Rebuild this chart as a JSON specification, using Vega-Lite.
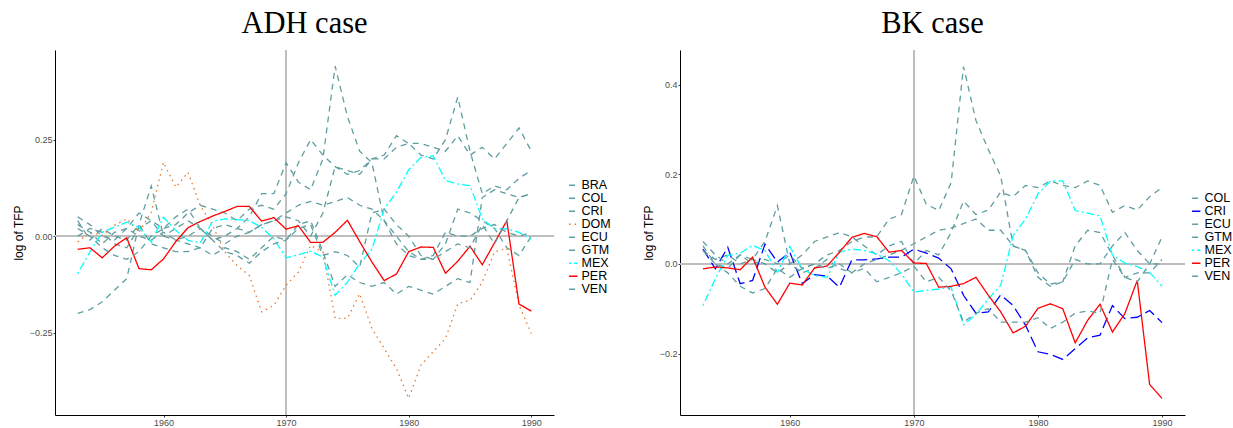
{
"$schema": "https://vega.github.io/schema/vega-lite/v6.json",
"background": "white",
"padding": {"left": 12, "top": 9, "right": 0, "bottom": 0},
"datasets": {
"adh": [
{"country":"BRA","year":1953,"tfp":-0.20},{"country":"BRA","year":1954,"tfp":-0.19},{"country":"BRA","year":1955,"tfp":-0.17},{"country":"BRA","year":1956,"tfp":-0.14},{"country":"BRA","year":1957,"tfp":-0.11},{"country":"BRA","year":1958,"tfp":0.03},{"country":"BRA","year":1959,"tfp":0.13},{"country":"BRA","year":1960,"tfp":0.0},{"country":"BRA","year":1961,"tfp":-0.01},{"country":"BRA","year":1962,"tfp":-0.02},{"country":"BRA","year":1963,"tfp":-0.03},{"country":"BRA","year":1964,"tfp":-0.05},{"country":"BRA","year":1965,"tfp":-0.03},{"country":"BRA","year":1966,"tfp":-0.04},{"country":"BRA","year":1967,"tfp":-0.06},{"country":"BRA","year":1968,"tfp":-0.03},{"country":"BRA","year":1969,"tfp":0.0},{"country":"BRA","year":1970,"tfp":-0.01},{"country":"BRA","year":1971,"tfp":0.03},{"country":"BRA","year":1972,"tfp":0.04},{"country":"BRA","year":1973,"tfp":-0.04},{"country":"BRA","year":1974,"tfp":-0.13},{"country":"BRA","year":1975,"tfp":-0.10},{"country":"BRA","year":1976,"tfp":-0.12},{"country":"BRA","year":1977,"tfp":-0.13},{"country":"BRA","year":1978,"tfp":-0.12},{"country":"BRA","year":1979,"tfp":-0.15},{"country":"BRA","year":1980,"tfp":-0.13},{"country":"BRA","year":1981,"tfp":-0.14},{"country":"BRA","year":1982,"tfp":-0.15},{"country":"BRA","year":1983,"tfp":-0.13},{"country":"BRA","year":1984,"tfp":-0.11},{"country":"BRA","year":1985,"tfp":-0.12},{"country":"BRA","year":1986,"tfp":0.10},{"country":"BRA","year":1987,"tfp":0.12},{"country":"BRA","year":1988,"tfp":0.11},{"country":"BRA","year":1989,"tfp":0.10},{"country":"BRA","year":1990,"tfp":0.11},
{"country":"COL","year":1953,"tfp":0.05},{"country":"COL","year":1954,"tfp":0.03},{"country":"COL","year":1955,"tfp":0.0},{"country":"COL","year":1956,"tfp":-0.01},{"country":"COL","year":1957,"tfp":0.02},{"country":"COL","year":1958,"tfp":0.06},{"country":"COL","year":1959,"tfp":0.04},{"country":"COL","year":1960,"tfp":0.02},{"country":"COL","year":1961,"tfp":0.03},{"country":"COL","year":1962,"tfp":0.06},{"country":"COL","year":1963,"tfp":0.08},{"country":"COL","year":1964,"tfp":0.07},{"country":"COL","year":1965,"tfp":0.06},{"country":"COL","year":1966,"tfp":0.04},{"country":"COL","year":1967,"tfp":0.07},{"country":"COL","year":1968,"tfp":0.08},{"country":"COL","year":1969,"tfp":0.07},{"country":"COL","year":1970,"tfp":0.11},{"country":"COL","year":1971,"tfp":0.19},{"country":"COL","year":1972,"tfp":0.25},{"country":"COL","year":1973,"tfp":0.21},{"country":"COL","year":1974,"tfp":0.18},{"country":"COL","year":1975,"tfp":0.16},{"country":"COL","year":1976,"tfp":0.17},{"country":"COL","year":1977,"tfp":0.20},{"country":"COL","year":1978,"tfp":0.21},{"country":"COL","year":1979,"tfp":0.26},{"country":"COL","year":1980,"tfp":0.24},{"country":"COL","year":1981,"tfp":0.24},{"country":"COL","year":1982,"tfp":0.23},{"country":"COL","year":1983,"tfp":0.22},{"country":"COL","year":1984,"tfp":0.26},{"country":"COL","year":1985,"tfp":0.21},{"country":"COL","year":1986,"tfp":0.23},{"country":"COL","year":1987,"tfp":0.20},{"country":"COL","year":1988,"tfp":0.24},{"country":"COL","year":1989,"tfp":0.28},{"country":"COL","year":1990,"tfp":0.22},
{"country":"CRI","year":1953,"tfp":0.04},{"country":"CRI","year":1954,"tfp":-0.01},{"country":"CRI","year":1955,"tfp":0.02},{"country":"CRI","year":1956,"tfp":0.0},{"country":"CRI","year":1957,"tfp":-0.01},{"country":"CRI","year":1958,"tfp":0.03},{"country":"CRI","year":1959,"tfp":-0.02},{"country":"CRI","year":1960,"tfp":-0.03},{"country":"CRI","year":1961,"tfp":-0.04},{"country":"CRI","year":1962,"tfp":-0.04},{"country":"CRI","year":1963,"tfp":-0.03},{"country":"CRI","year":1964,"tfp":0.02},{"country":"CRI","year":1965,"tfp":0.03},{"country":"CRI","year":1966,"tfp":0.02},{"country":"CRI","year":1967,"tfp":0.01},{"country":"CRI","year":1968,"tfp":0.03},{"country":"CRI","year":1969,"tfp":0.04},{"country":"CRI","year":1970,"tfp":0.06},{"country":"CRI","year":1971,"tfp":0.08},{"country":"CRI","year":1972,"tfp":0.09},{"country":"CRI","year":1973,"tfp":0.08},{"country":"CRI","year":1974,"tfp":0.09},{"country":"CRI","year":1975,"tfp":0.10},{"country":"CRI","year":1976,"tfp":0.08},{"country":"CRI","year":1977,"tfp":0.07},{"country":"CRI","year":1978,"tfp":0.04},{"country":"CRI","year":1979,"tfp":-0.02},{"country":"CRI","year":1980,"tfp":-0.05},{"country":"CRI","year":1981,"tfp":-0.06},{"country":"CRI","year":1982,"tfp":-0.06},{"country":"CRI","year":1983,"tfp":-0.02},{"country":"CRI","year":1984,"tfp":0.07},{"country":"CRI","year":1985,"tfp":0.06},{"country":"CRI","year":1986,"tfp":0.04},{"country":"CRI","year":1987,"tfp":0.02},{"country":"CRI","year":1988,"tfp":-0.03},{"country":"CRI","year":1989,"tfp":-0.05},{"country":"CRI","year":1990,"tfp":0.0},
{"country":"DOM","year":1953,"tfp":-0.015},{"country":"DOM","year":1954,"tfp":0.010},{"country":"DOM","year":1955,"tfp":0.002},{"country":"DOM","year":1956,"tfp":0.028},{"country":"DOM","year":1957,"tfp":0.045},{"country":"DOM","year":1958,"tfp":0.010},{"country":"DOM","year":1959,"tfp":0.062},{"country":"DOM","year":1960,"tfp":0.191},{"country":"DOM","year":1961,"tfp":0.127},{"country":"DOM","year":1962,"tfp":0.165},{"country":"DOM","year":1963,"tfp":0.079},{"country":"DOM","year":1964,"tfp":0.028},{"country":"DOM","year":1965,"tfp":-0.041},{"country":"DOM","year":1966,"tfp":-0.076},{"country":"DOM","year":1967,"tfp":-0.102},{"country":"DOM","year":1968,"tfp":-0.196},{"country":"DOM","year":1969,"tfp":-0.179},{"country":"DOM","year":1970,"tfp":-0.127},{"country":"DOM","year":1971,"tfp":-0.093},{"country":"DOM","year":1972,"tfp":-0.024},{"country":"DOM","year":1973,"tfp":-0.041},{"country":"DOM","year":1974,"tfp":-0.213},{"country":"DOM","year":1975,"tfp":-0.213},{"country":"DOM","year":1976,"tfp":-0.149},{"country":"DOM","year":1977,"tfp":-0.239},{"country":"DOM","year":1978,"tfp":-0.291},{"country":"DOM","year":1979,"tfp":-0.343},{"country":"DOM","year":1980,"tfp":-0.420},{"country":"DOM","year":1981,"tfp":-0.334},{"country":"DOM","year":1982,"tfp":-0.299},{"country":"DOM","year":1983,"tfp":-0.265},{"country":"DOM","year":1984,"tfp":-0.175},{"country":"DOM","year":1985,"tfp":-0.166},{"country":"DOM","year":1986,"tfp":-0.119},{"country":"DOM","year":1987,"tfp":-0.041},{"country":"DOM","year":1988,"tfp":-0.031},{"country":"DOM","year":1989,"tfp":-0.179},{"country":"DOM","year":1990,"tfp":-0.252},
{"country":"ECU","year":1953,"tfp":0.0},{"country":"ECU","year":1954,"tfp":0.02},{"country":"ECU","year":1955,"tfp":0.01},{"country":"ECU","year":1956,"tfp":-0.02},{"country":"ECU","year":1957,"tfp":-0.03},{"country":"ECU","year":1958,"tfp":0.02},{"country":"ECU","year":1959,"tfp":0.04},{"country":"ECU","year":1960,"tfp":0.0},{"country":"ECU","year":1961,"tfp":0.02},{"country":"ECU","year":1962,"tfp":0.04},{"country":"ECU","year":1963,"tfp":0.02},{"country":"ECU","year":1964,"tfp":0.0},{"country":"ECU","year":1965,"tfp":-0.02},{"country":"ECU","year":1966,"tfp":0.0},{"country":"ECU","year":1967,"tfp":0.01},{"country":"ECU","year":1968,"tfp":0.03},{"country":"ECU","year":1969,"tfp":0.04},{"country":"ECU","year":1970,"tfp":0.05},{"country":"ECU","year":1971,"tfp":0.04},{"country":"ECU","year":1972,"tfp":0.0},{"country":"ECU","year":1973,"tfp":0.06},{"country":"ECU","year":1974,"tfp":0.18},{"country":"ECU","year":1975,"tfp":0.17},{"country":"ECU","year":1976,"tfp":0.16},{"country":"ECU","year":1977,"tfp":0.20},{"country":"ECU","year":1978,"tfp":0.20},{"country":"ECU","year":1979,"tfp":0.23},{"country":"ECU","year":1980,"tfp":0.24},{"country":"ECU","year":1981,"tfp":0.21},{"country":"ECU","year":1982,"tfp":0.20},{"country":"ECU","year":1983,"tfp":0.25},{"country":"ECU","year":1984,"tfp":0.36},{"country":"ECU","year":1985,"tfp":0.22},{"country":"ECU","year":1986,"tfp":0.11},{"country":"ECU","year":1987,"tfp":0.13},{"country":"ECU","year":1988,"tfp":0.12},{"country":"ECU","year":1989,"tfp":0.15},{"country":"ECU","year":1990,"tfp":0.17},
{"country":"GTM","year":1953,"tfp":0.03},{"country":"GTM","year":1954,"tfp":0.01},{"country":"GTM","year":1955,"tfp":-0.02},{"country":"GTM","year":1956,"tfp":0.01},{"country":"GTM","year":1957,"tfp":0.02},{"country":"GTM","year":1958,"tfp":0.0},{"country":"GTM","year":1959,"tfp":-0.01},{"country":"GTM","year":1960,"tfp":0.01},{"country":"GTM","year":1961,"tfp":-0.01},{"country":"GTM","year":1962,"tfp":0.0},{"country":"GTM","year":1963,"tfp":0.02},{"country":"GTM","year":1964,"tfp":-0.01},{"country":"GTM","year":1965,"tfp":0.0},{"country":"GTM","year":1966,"tfp":0.02},{"country":"GTM","year":1967,"tfp":0.05},{"country":"GTM","year":1968,"tfp":0.11},{"country":"GTM","year":1969,"tfp":0.11},{"country":"GTM","year":1970,"tfp":0.19},{"country":"GTM","year":1971,"tfp":0.14},{"country":"GTM","year":1972,"tfp":0.12},{"country":"GTM","year":1973,"tfp":0.20},{"country":"GTM","year":1974,"tfp":0.44},{"country":"GTM","year":1975,"tfp":0.31},{"country":"GTM","year":1976,"tfp":0.22},{"country":"GTM","year":1977,"tfp":0.19},{"country":"GTM","year":1978,"tfp":0.04},{"country":"GTM","year":1979,"tfp":0.0},{"country":"GTM","year":1980,"tfp":-0.04},{"country":"GTM","year":1981,"tfp":-0.06},{"country":"GTM","year":1982,"tfp":-0.05},{"country":"GTM","year":1983,"tfp":0.01},{"country":"GTM","year":1984,"tfp":0.0},{"country":"GTM","year":1985,"tfp":0.0},{"country":"GTM","year":1986,"tfp":0.02},{"country":"GTM","year":1987,"tfp":0.03},{"country":"GTM","year":1988,"tfp":0.01},{"country":"GTM","year":1989,"tfp":0.0},{"country":"GTM","year":1990,"tfp":0.01},
{"country":"MEX","year":1953,"tfp":-0.097},{"country":"MEX","year":1954,"tfp":-0.041},{"country":"MEX","year":1955,"tfp":0.010},{"country":"MEX","year":1956,"tfp":0.023},{"country":"MEX","year":1957,"tfp":0.036},{"country":"MEX","year":1958,"tfp":0.023},{"country":"MEX","year":1959,"tfp":-0.015},{"country":"MEX","year":1960,"tfp":0.049},{"country":"MEX","year":1961,"tfp":0.015},{"country":"MEX","year":1962,"tfp":-0.011},{"country":"MEX","year":1963,"tfp":-0.017},{"country":"MEX","year":1964,"tfp":0.038},{"country":"MEX","year":1965,"tfp":0.045},{"country":"MEX","year":1966,"tfp":0.043},{"country":"MEX","year":1967,"tfp":0.040},{"country":"MEX","year":1968,"tfp":0.023},{"country":"MEX","year":1969,"tfp":-0.007},{"country":"MEX","year":1970,"tfp":-0.056},{"country":"MEX","year":1971,"tfp":-0.048},{"country":"MEX","year":1972,"tfp":-0.039},{"country":"MEX","year":1973,"tfp":-0.054},{"country":"MEX","year":1974,"tfp":-0.153},{"country":"MEX","year":1975,"tfp":-0.119},{"country":"MEX","year":1976,"tfp":-0.071},{"country":"MEX","year":1977,"tfp":-0.034},{"country":"MEX","year":1978,"tfp":0.071},{"country":"MEX","year":1979,"tfp":0.114},{"country":"MEX","year":1980,"tfp":0.172},{"country":"MEX","year":1981,"tfp":0.204},{"country":"MEX","year":1982,"tfp":0.208},{"country":"MEX","year":1983,"tfp":0.144},{"country":"MEX","year":1984,"tfp":0.135},{"country":"MEX","year":1985,"tfp":0.131},{"country":"MEX","year":1986,"tfp":0.045},{"country":"MEX","year":1987,"tfp":0.019},{"country":"MEX","year":1988,"tfp":0.019},{"country":"MEX","year":1989,"tfp":0.010},{"country":"MEX","year":1990,"tfp":-0.007},
{"country":"PER","year":1953,"tfp":-0.034},{"country":"PER","year":1954,"tfp":-0.030},{"country":"PER","year":1955,"tfp":-0.056},{"country":"PER","year":1956,"tfp":-0.026},{"country":"PER","year":1957,"tfp":-0.004},{"country":"PER","year":1958,"tfp":-0.084},{"country":"PER","year":1959,"tfp":-0.087},{"country":"PER","year":1960,"tfp":-0.059},{"country":"PER","year":1961,"tfp":-0.014},{"country":"PER","year":1962,"tfp":0.022},{"country":"PER","year":1963,"tfp":0.038},{"country":"PER","year":1964,"tfp":0.052},{"country":"PER","year":1965,"tfp":0.064},{"country":"PER","year":1966,"tfp":0.077},{"country":"PER","year":1967,"tfp":0.077},{"country":"PER","year":1968,"tfp":0.039},{"country":"PER","year":1969,"tfp":0.048},{"country":"PER","year":1970,"tfp":0.018},{"country":"PER","year":1971,"tfp":0.027},{"country":"PER","year":1972,"tfp":-0.016},{"country":"PER","year":1973,"tfp":-0.016},{"country":"PER","year":1974,"tfp":0.010},{"country":"PER","year":1975,"tfp":0.041},{"country":"PER","year":1976,"tfp":-0.014},{"country":"PER","year":1977,"tfp":-0.067},{"country":"PER","year":1978,"tfp":-0.115},{"country":"PER","year":1979,"tfp":-0.098},{"country":"PER","year":1980,"tfp":-0.040},{"country":"PER","year":1981,"tfp":-0.028},{"country":"PER","year":1982,"tfp":-0.029},{"country":"PER","year":1983,"tfp":-0.096},{"country":"PER","year":1984,"tfp":-0.065},{"country":"PER","year":1985,"tfp":-0.026},{"country":"PER","year":1986,"tfp":-0.074},{"country":"PER","year":1987,"tfp":-0.017},{"country":"PER","year":1988,"tfp":0.040},{"country":"PER","year":1989,"tfp":-0.176},{"country":"PER","year":1990,"tfp":-0.194},
{"country":"VEN","year":1953,"tfp":0.02},{"country":"VEN","year":1954,"tfp":0.0},{"country":"VEN","year":1955,"tfp":-0.03},{"country":"VEN","year":1956,"tfp":-0.05},{"country":"VEN","year":1957,"tfp":-0.06},{"country":"VEN","year":1958,"tfp":-0.04},{"country":"VEN","year":1959,"tfp":0.0},{"country":"VEN","year":1960,"tfp":0.02},{"country":"VEN","year":1961,"tfp":0.05},{"country":"VEN","year":1962,"tfp":0.07},{"country":"VEN","year":1963,"tfp":0.02},{"country":"VEN","year":1964,"tfp":-0.01},{"country":"VEN","year":1965,"tfp":-0.04},{"country":"VEN","year":1966,"tfp":-0.05},{"country":"VEN","year":1967,"tfp":-0.07},{"country":"VEN","year":1968,"tfp":-0.04},{"country":"VEN","year":1969,"tfp":-0.02},{"country":"VEN","year":1970,"tfp":-0.01},{"country":"VEN","year":1971,"tfp":0.02},{"country":"VEN","year":1972,"tfp":0.03},{"country":"VEN","year":1973,"tfp":-0.05},{"country":"VEN","year":1974,"tfp":-0.04},{"country":"VEN","year":1975,"tfp":-0.05},{"country":"VEN","year":1976,"tfp":-0.08},{"country":"VEN","year":1977,"tfp":0.06},{"country":"VEN","year":1978,"tfp":0.07},{"country":"VEN","year":1979,"tfp":0.03},{"country":"VEN","year":1980,"tfp":0.0},{"country":"VEN","year":1981,"tfp":-0.05},{"country":"VEN","year":1982,"tfp":-0.06},{"country":"VEN","year":1983,"tfp":-0.04},{"country":"VEN","year":1984,"tfp":-0.02},{"country":"VEN","year":1985,"tfp":-0.03},{"country":"VEN","year":1986,"tfp":0.03},{"country":"VEN","year":1987,"tfp":-0.02},{"country":"VEN","year":1988,"tfp":0.04},{"country":"VEN","year":1989,"tfp":0.10},{"country":"VEN","year":1990,"tfp":0.11}
],
"bk": [
{"country":"COL","year":1953,"tfp":0.03},{"country":"COL","year":1954,"tfp":0.01},{"country":"COL","year":1955,"tfp":0.02},{"country":"COL","year":1956,"tfp":0.0},{"country":"COL","year":1957,"tfp":0.01},{"country":"COL","year":1958,"tfp":0.0},{"country":"COL","year":1959,"tfp":-0.02},{"country":"COL","year":1960,"tfp":0.0},{"country":"COL","year":1961,"tfp":0.02},{"country":"COL","year":1962,"tfp":0.05},{"country":"COL","year":1963,"tfp":0.06},{"country":"COL","year":1964,"tfp":0.07},{"country":"COL","year":1965,"tfp":0.06},{"country":"COL","year":1966,"tfp":0.04},{"country":"COL","year":1967,"tfp":0.02},{"country":"COL","year":1968,"tfp":0.04},{"country":"COL","year":1969,"tfp":0.05},{"country":"COL","year":1970,"tfp":0.0},{"country":"COL","year":1971,"tfp":0.03},{"country":"COL","year":1972,"tfp":0.02},{"country":"COL","year":1973,"tfp":0.07},{"country":"COL","year":1974,"tfp":0.14},{"country":"COL","year":1975,"tfp":0.11},{"country":"COL","year":1976,"tfp":0.12},{"country":"COL","year":1977,"tfp":0.16},{"country":"COL","year":1978,"tfp":0.15},{"country":"COL","year":1979,"tfp":0.175},{"country":"COL","year":1980,"tfp":0.17},{"country":"COL","year":1981,"tfp":0.185},{"country":"COL","year":1982,"tfp":0.175},{"country":"COL","year":1983,"tfp":0.17},{"country":"COL","year":1984,"tfp":0.185},{"country":"COL","year":1985,"tfp":0.175},{"country":"COL","year":1986,"tfp":0.115},{"country":"COL","year":1987,"tfp":0.13},{"country":"COL","year":1988,"tfp":0.12},{"country":"COL","year":1989,"tfp":0.15},{"country":"COL","year":1990,"tfp":0.17},
{"country":"CRI","year":1953,"tfp":0.033},{"country":"CRI","year":1954,"tfp":-0.011},{"country":"CRI","year":1955,"tfp":0.037},{"country":"CRI","year":1956,"tfp":-0.044},{"country":"CRI","year":1957,"tfp":-0.037},{"country":"CRI","year":1958,"tfp":0.044},{"country":"CRI","year":1959,"tfp":0.004},{"country":"CRI","year":1960,"tfp":0.026},{"country":"CRI","year":1961,"tfp":-0.044},{"country":"CRI","year":1962,"tfp":-0.024},{"country":"CRI","year":1963,"tfp":-0.027},{"country":"CRI","year":1964,"tfp":-0.052},{"country":"CRI","year":1965,"tfp":0.009},{"country":"CRI","year":1966,"tfp":0.009},{"country":"CRI","year":1967,"tfp":0.011},{"country":"CRI","year":1968,"tfp":0.015},{"country":"CRI","year":1969,"tfp":0.015},{"country":"CRI","year":1970,"tfp":0.033},{"country":"CRI","year":1971,"tfp":0.024},{"country":"CRI","year":1972,"tfp":0.013},{"country":"CRI","year":1973,"tfp":-0.011},{"country":"CRI","year":1974,"tfp":-0.070},{"country":"CRI","year":1975,"tfp":-0.110},{"country":"CRI","year":1976,"tfp":-0.107},{"country":"CRI","year":1977,"tfp":-0.069},{"country":"CRI","year":1978,"tfp":-0.093},{"country":"CRI","year":1979,"tfp":-0.137},{"country":"CRI","year":1980,"tfp":-0.196},{"country":"CRI","year":1981,"tfp":-0.202},{"country":"CRI","year":1982,"tfp":-0.213},{"country":"CRI","year":1983,"tfp":-0.189},{"country":"CRI","year":1984,"tfp":-0.165},{"country":"CRI","year":1985,"tfp":-0.159},{"country":"CRI","year":1986,"tfp":-0.093},{"country":"CRI","year":1987,"tfp":-0.122},{"country":"CRI","year":1988,"tfp":-0.119},{"country":"CRI","year":1989,"tfp":-0.104},{"country":"CRI","year":1990,"tfp":-0.131},
{"country":"ECU","year":1953,"tfp":0.05},{"country":"ECU","year":1954,"tfp":0.02},{"country":"ECU","year":1955,"tfp":0.0},{"country":"ECU","year":1956,"tfp":0.02},{"country":"ECU","year":1957,"tfp":0.01},{"country":"ECU","year":1958,"tfp":0.05},{"country":"ECU","year":1959,"tfp":0.13},{"country":"ECU","year":1960,"tfp":0.0},{"country":"ECU","year":1961,"tfp":-0.02},{"country":"ECU","year":1962,"tfp":-0.01},{"country":"ECU","year":1963,"tfp":0.01},{"country":"ECU","year":1964,"tfp":-0.01},{"country":"ECU","year":1965,"tfp":-0.02},{"country":"ECU","year":1966,"tfp":0.0},{"country":"ECU","year":1967,"tfp":0.01},{"country":"ECU","year":1968,"tfp":0.02},{"country":"ECU","year":1969,"tfp":0.03},{"country":"ECU","year":1970,"tfp":0.045},{"country":"ECU","year":1971,"tfp":0.06},{"country":"ECU","year":1972,"tfp":0.075},{"country":"ECU","year":1973,"tfp":0.08},{"country":"ECU","year":1974,"tfp":0.09},{"country":"ECU","year":1975,"tfp":0.10},{"country":"ECU","year":1976,"tfp":0.075},{"country":"ECU","year":1977,"tfp":0.075},{"country":"ECU","year":1978,"tfp":0.04},{"country":"ECU","year":1979,"tfp":0.03},{"country":"ECU","year":1980,"tfp":-0.02},{"country":"ECU","year":1981,"tfp":-0.045},{"country":"ECU","year":1982,"tfp":-0.04},{"country":"ECU","year":1983,"tfp":0.04},{"country":"ECU","year":1984,"tfp":0.075},{"country":"ECU","year":1985,"tfp":0.07},{"country":"ECU","year":1986,"tfp":0.02},{"country":"ECU","year":1987,"tfp":-0.03},{"country":"ECU","year":1988,"tfp":-0.02},{"country":"ECU","year":1989,"tfp":-0.02},{"country":"ECU","year":1990,"tfp":0.01},
{"country":"GTM","year":1953,"tfp":0.03},{"country":"GTM","year":1954,"tfp":0.0},{"country":"GTM","year":1955,"tfp":-0.01},{"country":"GTM","year":1956,"tfp":0.02},{"country":"GTM","year":1957,"tfp":0.0},{"country":"GTM","year":1958,"tfp":0.01},{"country":"GTM","year":1959,"tfp":0.0},{"country":"GTM","year":1960,"tfp":0.02},{"country":"GTM","year":1961,"tfp":-0.01},{"country":"GTM","year":1962,"tfp":0.0},{"country":"GTM","year":1963,"tfp":0.02},{"country":"GTM","year":1964,"tfp":0.03},{"country":"GTM","year":1965,"tfp":0.05},{"country":"GTM","year":1966,"tfp":0.06},{"country":"GTM","year":1967,"tfp":0.06},{"country":"GTM","year":1968,"tfp":0.10},{"country":"GTM","year":1969,"tfp":0.11},{"country":"GTM","year":1970,"tfp":0.196},{"country":"GTM","year":1971,"tfp":0.133},{"country":"GTM","year":1972,"tfp":0.119},{"country":"GTM","year":1973,"tfp":0.181},{"country":"GTM","year":1974,"tfp":0.44},{"country":"GTM","year":1975,"tfp":0.32},{"country":"GTM","year":1976,"tfp":0.255},{"country":"GTM","year":1977,"tfp":0.196},{"country":"GTM","year":1978,"tfp":0.04},{"country":"GTM","year":1979,"tfp":0.03},{"country":"GTM","year":1980,"tfp":-0.03},{"country":"GTM","year":1981,"tfp":-0.05},{"country":"GTM","year":1982,"tfp":-0.04},{"country":"GTM","year":1983,"tfp":0.01},{"country":"GTM","year":1984,"tfp":0.0},{"country":"GTM","year":1985,"tfp":0.0},{"country":"GTM","year":1986,"tfp":0.04},{"country":"GTM","year":1987,"tfp":0.07},{"country":"GTM","year":1988,"tfp":0.03},{"country":"GTM","year":1989,"tfp":0.0},{"country":"GTM","year":1990,"tfp":0.0},
{"country":"MEX","year":1953,"tfp":-0.093},{"country":"MEX","year":1954,"tfp":-0.033},{"country":"MEX","year":1955,"tfp":0.019},{"country":"MEX","year":1956,"tfp":0.024},{"country":"MEX","year":1957,"tfp":0.041},{"country":"MEX","year":1958,"tfp":0.030},{"country":"MEX","year":1959,"tfp":-0.019},{"country":"MEX","year":1960,"tfp":0.039},{"country":"MEX","year":1961,"tfp":-0.011},{"country":"MEX","year":1962,"tfp":-0.026},{"country":"MEX","year":1963,"tfp":-0.030},{"country":"MEX","year":1964,"tfp":0.026},{"country":"MEX","year":1965,"tfp":0.033},{"country":"MEX","year":1966,"tfp":0.030},{"country":"MEX","year":1967,"tfp":0.022},{"country":"MEX","year":1968,"tfp":0.007},{"country":"MEX","year":1969,"tfp":-0.022},{"country":"MEX","year":1970,"tfp":-0.063},{"country":"MEX","year":1971,"tfp":-0.059},{"country":"MEX","year":1972,"tfp":-0.056},{"country":"MEX","year":1973,"tfp":-0.052},{"country":"MEX","year":1974,"tfp":-0.136},{"country":"MEX","year":1975,"tfp":-0.113},{"country":"MEX","year":1976,"tfp":-0.078},{"country":"MEX","year":1977,"tfp":-0.048},{"country":"MEX","year":1978,"tfp":0.063},{"country":"MEX","year":1979,"tfp":0.100},{"country":"MEX","year":1980,"tfp":0.156},{"country":"MEX","year":1981,"tfp":0.185},{"country":"MEX","year":1982,"tfp":0.185},{"country":"MEX","year":1983,"tfp":0.119},{"country":"MEX","year":1984,"tfp":0.113},{"country":"MEX","year":1985,"tfp":0.107},{"country":"MEX","year":1986,"tfp":0.020},{"country":"MEX","year":1987,"tfp":0.002},{"country":"MEX","year":1988,"tfp":-0.006},{"country":"MEX","year":1989,"tfp":-0.019},{"country":"MEX","year":1990,"tfp":-0.050},
{"country":"PER","year":1953,"tfp":-0.011},{"country":"PER","year":1954,"tfp":-0.007},{"country":"PER","year":1955,"tfp":-0.009},{"country":"PER","year":1956,"tfp":-0.013},{"country":"PER","year":1957,"tfp":0.015},{"country":"PER","year":1958,"tfp":-0.052},{"country":"PER","year":1959,"tfp":-0.090},{"country":"PER","year":1960,"tfp":-0.043},{"country":"PER","year":1961,"tfp":-0.047},{"country":"PER","year":1962,"tfp":-0.009},{"country":"PER","year":1963,"tfp":-0.005},{"country":"PER","year":1964,"tfp":0.026},{"country":"PER","year":1965,"tfp":0.059},{"country":"PER","year":1966,"tfp":0.068},{"country":"PER","year":1967,"tfp":0.061},{"country":"PER","year":1968,"tfp":0.026},{"country":"PER","year":1969,"tfp":0.030},{"country":"PER","year":1970,"tfp":0.002},{"country":"PER","year":1971,"tfp":0.001},{"country":"PER","year":1972,"tfp":-0.052},{"country":"PER","year":1973,"tfp":-0.050},{"country":"PER","year":1974,"tfp":-0.044},{"country":"PER","year":1975,"tfp":-0.030},{"country":"PER","year":1976,"tfp":-0.070},{"country":"PER","year":1977,"tfp":-0.107},{"country":"PER","year":1978,"tfp":-0.154},{"country":"PER","year":1979,"tfp":-0.139},{"country":"PER","year":1980,"tfp":-0.099},{"country":"PER","year":1981,"tfp":-0.089},{"country":"PER","year":1982,"tfp":-0.100},{"country":"PER","year":1983,"tfp":-0.176},{"country":"PER","year":1984,"tfp":-0.126},{"country":"PER","year":1985,"tfp":-0.090},{"country":"PER","year":1986,"tfp":-0.152},{"country":"PER","year":1987,"tfp":-0.111},{"country":"PER","year":1988,"tfp":-0.037},{"country":"PER","year":1989,"tfp":-0.269},{"country":"PER","year":1990,"tfp":-0.300},
{"country":"VEN","year":1953,"tfp":0.04},{"country":"VEN","year":1954,"tfp":0.0},{"country":"VEN","year":1955,"tfp":-0.02},{"country":"VEN","year":1956,"tfp":-0.05},{"country":"VEN","year":1957,"tfp":-0.065},{"country":"VEN","year":1958,"tfp":-0.055},{"country":"VEN","year":1959,"tfp":-0.01},{"country":"VEN","year":1960,"tfp":-0.03},{"country":"VEN","year":1961,"tfp":-0.01},{"country":"VEN","year":1962,"tfp":0.0},{"country":"VEN","year":1963,"tfp":-0.01},{"country":"VEN","year":1964,"tfp":0.0},{"country":"VEN","year":1965,"tfp":-0.02},{"country":"VEN","year":1966,"tfp":-0.01},{"country":"VEN","year":1967,"tfp":-0.04},{"country":"VEN","year":1968,"tfp":-0.03},{"country":"VEN","year":1969,"tfp":-0.02},{"country":"VEN","year":1970,"tfp":-0.005},{"country":"VEN","year":1971,"tfp":-0.04},{"country":"VEN","year":1972,"tfp":-0.03},{"country":"VEN","year":1973,"tfp":-0.06},{"country":"VEN","year":1974,"tfp":-0.13},{"country":"VEN","year":1975,"tfp":-0.11},{"country":"VEN","year":1976,"tfp":-0.10},{"country":"VEN","year":1977,"tfp":-0.13},{"country":"VEN","year":1978,"tfp":-0.13},{"country":"VEN","year":1979,"tfp":-0.13},{"country":"VEN","year":1980,"tfp":-0.12},{"country":"VEN","year":1981,"tfp":-0.144},{"country":"VEN","year":1982,"tfp":-0.13},{"country":"VEN","year":1983,"tfp":-0.11},{"country":"VEN","year":1984,"tfp":-0.105},{"country":"VEN","year":1985,"tfp":-0.11},{"country":"VEN","year":1986,"tfp":0.01},{"country":"VEN","year":1987,"tfp":-0.03},{"country":"VEN","year":1988,"tfp":-0.04},{"country":"VEN","year":1989,"tfp":0.0},{"country":"VEN","year":1990,"tfp":0.06}
]
},
"spacing": 31,
"resolve": {"scale": {"color": "independent", "strokeDash": "independent", "x": "independent", "y": "independent"}, "legend": {"color": "independent", "strokeDash": "independent"}},
"hconcat": [
{
"width": 499, "height": 365,
"title": {"text": "ADH case"},
"data": {"name": "adh"},
"layer": [
{"mark": {"type": "rule", "color": "#bebebe", "strokeWidth": 1}, "encoding": {"x": {"datum": 1970, "type": "quantitative"}}},
{"mark": {"type": "rule", "color": "#bebebe", "strokeWidth": 1}, "encoding": {"y": {"datum": 0, "type": "quantitative"}}},
{"mark": {"type": "line", "strokeWidth": 1.3},
"encoding": {
"x": {"field": "year", "type": "quantitative", "scale": {"domain": [1951.15, 1991.85], "nice": false, "zero": false}, "axis": {"values": [1960, 1970, 1980, 1990], "format": "d", "title": null}},
"y": {"field": "tfp", "type": "quantitative", "scale": {"domain": [-0.463, 0.482], "nice": false, "zero": false}, "axis": {"values": [-0.25, 0, 0.25], "format": ".2f", "title": "log of TFP"}},
"color": {"field": "country", "type": "nominal", "scale": {"domain": ["BRA","COL","CRI","DOM","ECU","GTM","MEX","PER","VEN"], "range": ["#5f9ea0","#5f9ea0","#5f9ea0","#e07830","#5f9ea0","#5f9ea0","#00ffff","#ff0000","#5f9ea0"]}, "legend": {"orient": "none", "legendX": 512, "legendY": 129, "title": null}},
"strokeDash": {"field": "country", "type": "nominal", "scale": {"domain": ["BRA","COL","CRI","DOM","ECU","GTM","MEX","PER","VEN"], "range": [[6,5],[6,5],[6,5],[1.5,4],[6,5],[6,5],[2,3,8,3],[1,0],[6,5]]}, "legend": {"orient": "none", "legendX": 512, "legendY": 129, "title": null}},
"strokeWidth": {"condition": {"test": "datum.country === 'PER'", "value": 2.8}, "value": 1.3}
}}
]
},
{
"width": 505, "height": 365,
"title": {"text": "BK case"},
"data": {"name": "bk"},
"layer": [
{"mark": {"type": "rule", "color": "#bebebe", "strokeWidth": 1}, "encoding": {"x": {"datum": 1970, "type": "quantitative"}}},
{"mark": {"type": "rule", "color": "#bebebe", "strokeWidth": 1}, "encoding": {"y": {"datum": 0, "type": "quantitative"}}},
{"mark": {"type": "line", "strokeWidth": 1.3},
"encoding": {
"x": {"field": "year", "type": "quantitative", "scale": {"domain": [1951.15, 1991.85], "nice": false, "zero": false}, "axis": {"values": [1960, 1970, 1980, 1990], "format": "d", "title": null}},
"y": {"field": "tfp", "type": "quantitative", "scale": {"domain": [-0.337, 0.477], "nice": false, "zero": false}, "axis": {"values": [-0.2, 0, 0.2, 0.4], "format": ".1f", "title": "log of TFP"}},
"color": {"field": "country", "type": "nominal", "scale": {"domain": ["COL","CRI","ECU","GTM","MEX","PER","VEN"], "range": ["#5f9ea0","#0000ff","#5f9ea0","#5f9ea0","#00ffff","#ff0000","#5f9ea0"]}, "legend": {"orient": "none", "legendX": 510, "legendY": 142, "title": null}},
"strokeDash": {"field": "country", "type": "nominal", "scale": {"domain": ["COL","CRI","ECU","GTM","MEX","PER","VEN"], "range": [[6,5],[11,5],[6,5],[6,5],[2,3,8,3],[1,0],[6,5]]}, "legend": {"orient": "none", "legendX": 510, "legendY": 142, "title": null}},
"strokeWidth": {"condition": {"test": "datum.country === 'PER'", "value": 2.8}, "value": 1.3}
}}
]
}
],
"config": {
"view": {"stroke": null},
"title": {"font": "Liberation Serif", "fontSize": 30.5, "fontWeight": "normal", "color": "black", "anchor": "middle", "offset": 10},
"axis": {"grid": false, "domainColor": "black", "domainWidth": 1, "tickColor": "#444", "tickSize": 2, "labelColor": "#4d4d4d", "labelFont": "Liberation Sans", "labelFontSize": 9, "labelPadding": 1, "titleFont": "Liberation Sans", "titleFontSize": 12, "titleFontWeight": "normal", "titleColor": "black", "titlePadding": 4},
"legend": {"labelFont": "Liberation Sans", "labelFontSize": 12.5, "labelColor": "black", "symbolType": "stroke", "symbolSize": 70, "symbolStrokeWidth": 1.5, "rowPadding": -0.5, "labelOffset": 2, "padding": 0}
}
}
